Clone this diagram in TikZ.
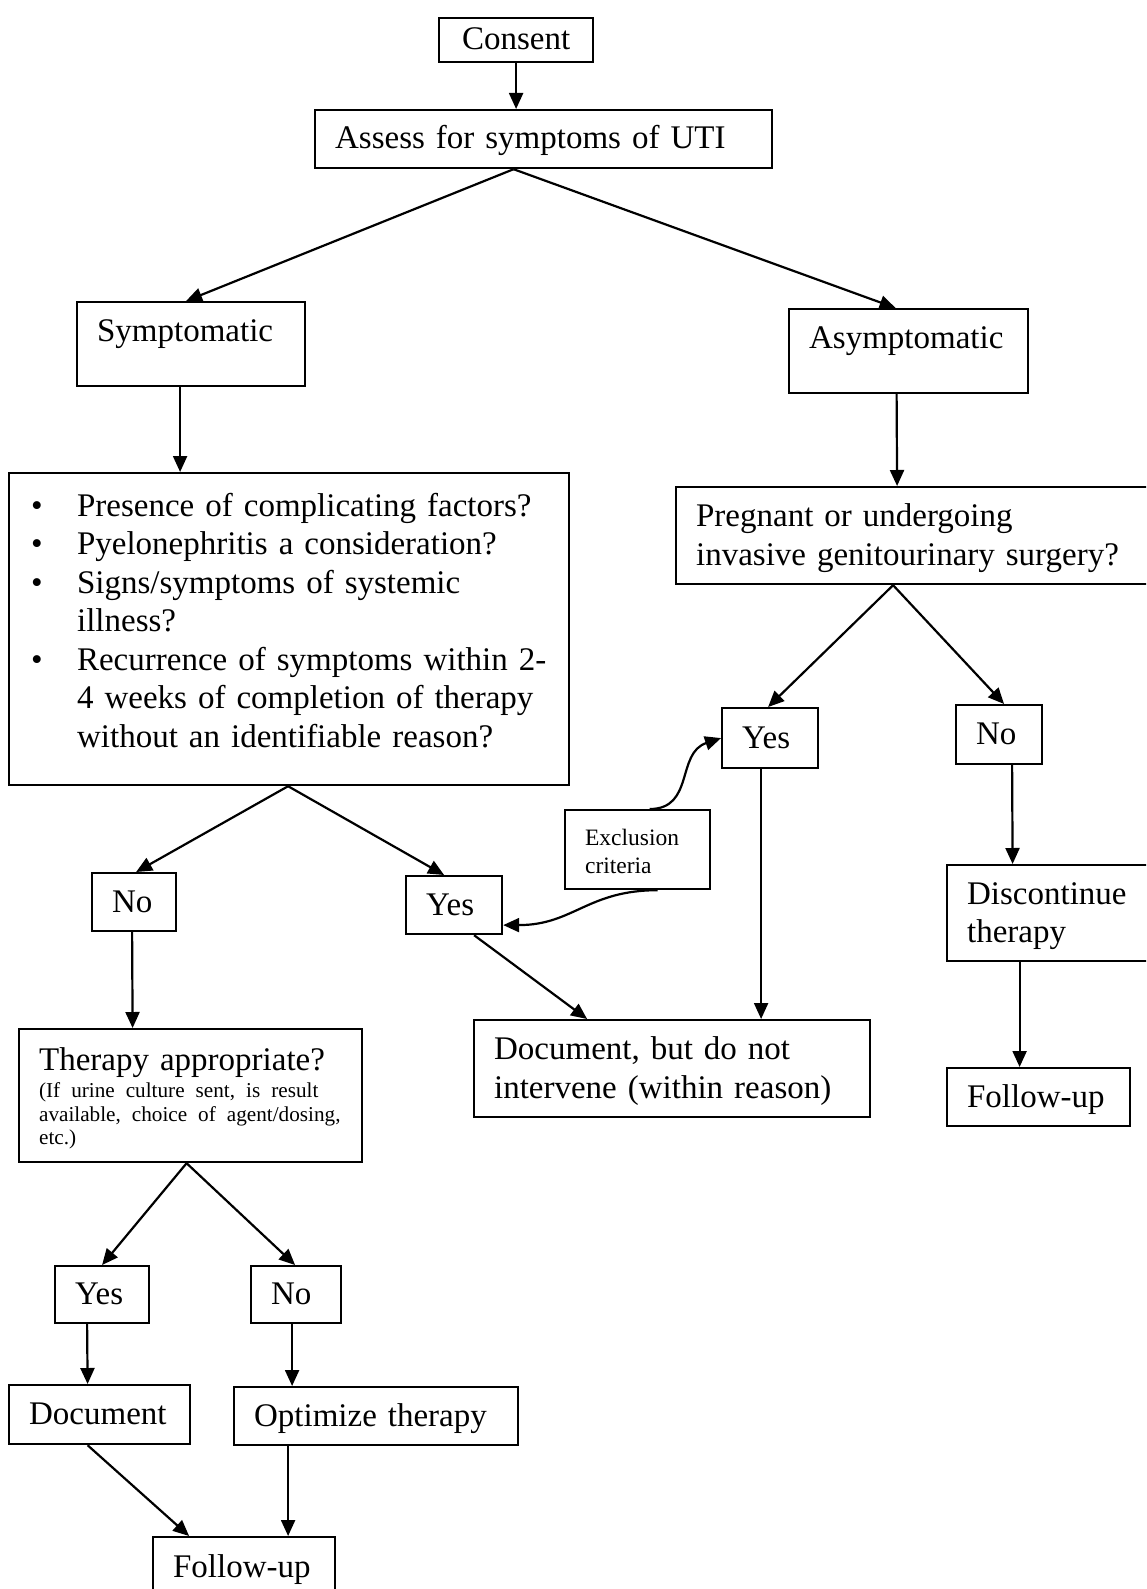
\documentclass[tikz,border=0pt]{standalone}
\usepackage{fontspec}
\setmainfont{Liberation Serif}
\usetikzlibrary{arrows.meta}

% bullet and hanging indent for the criteria list
\newcommand{\critbullet}{\makebox[68pt][l]{\hspace*{22pt}\textbullet}}
\newcommand{\critindent}{\hspace*{68pt}}
% first-line strut so the text sits like the Word boxes
\newcommand{\boxstrut}{\rule[-0.25em]{0pt}{1.1em}}

\begin{document}
\begin{tikzpicture}[x=1pt, y=-1pt, font=\fontsize{33}{38.5}\selectfont,
  box/.style={draw, line width=2.2pt, anchor=north west, inner xsep=20pt,
    inner ysep=0pt, align=left, execute at begin node=\boxstrut},
  arr/.style={line width=2.2pt, -{Triangle[length=16pt, width=14pt]}}]

  % page frame, 1 unit = 1 px of the flowchart
  \useasboundingbox (0,0) rectangle (1146,1589);
  \clip (0,0) rectangle (1146,1589);

  % ---- top ----
  \node[box, align=center, text width=114pt, minimum height=44pt] (consent) at (438,17) {Consent};
  \node[box, text width=417pt, minimum height=58pt] (assess) at (314,109) {Assess for symptoms of UTI};

  \node[box, text width=188pt, minimum height=84pt, text depth=33pt] (sympt) at (76,301) {Symptomatic};
  \node[box, text width=199pt, minimum height=84pt, text depth=33pt] (asym) at (788,308) {Asymptomatic};

  % ---- symptomatic branch ----
  \node[box, inner xsep=0pt, text width=560pt, minimum height=312pt] (crit) at (8,472) {%
    \critbullet Presence of complicating factors?\\
    \critbullet Pyelonephritis a consideration?\\
    \critbullet Signs/symptoms of systemic\\
    \critindent illness?\\
    \critbullet Recurrence of symptoms within 2-\\
    \critindent 4 weeks of completion of therapy\\
    \critindent without an identifiable reason?\rule[-23pt]{0pt}{23pt}};

  \node[box, text width=44pt, minimum height=58pt] (noL) at (91,872) {No};
  \node[box, text width=56pt, minimum height=58pt] (yesM) at (405,875) {Yes};

  \node[box, text width=303pt, minimum height=133pt] (ther) at (18,1028) {%
    \raggedright Therapy appropriate?\par\vspace{4pt}
    \fontsize{21.2}{23.3}\selectfont \mbox{(If urine culture sent, is result}\par
    \mbox{available, choice of agent/dosing,}\par
    etc.)\par};

  \node[box, text width=54pt, minimum height=57pt] (yesB) at (54,1265) {Yes};
  \node[box, text width=50pt, minimum height=57pt] (noB) at (250,1265) {No};
  \node[box, text width=141pt, minimum height=59pt] (docB) at (8,1384) {Document};
  \node[box, text width=244pt, minimum height=58pt] (opt) at (233,1386) {Optimize therapy};
  \node[box, text width=142pt, minimum height=60pt] (fupB) at (152,1536) {Follow-up};

  % ---- asymptomatic branch ----
  \node[box, text width=450pt, minimum height=97pt] (preg) at (675,486) {Pregnant or undergoing\\invasive genitourinary surgery?};
  \node[box, text width=56pt, minimum height=60pt] (yesR) at (721,707) {Yes};
  \node[box, text width=46pt, minimum height=59pt] (noR) at (955,704) {No};
  \node[box, font=\fontsize{23.5}{27.5}\selectfont, text width=105pt, minimum height=79pt] (excl) at (564,809) {Exclusion\\criteria};
  \node[box, text width=175pt, minimum height=96pt] (disc) at (946,864) {Discontinue\\therapy};
  \node[box, text width=356pt, minimum height=97pt] (docbut) at (473,1019) {Document, but do not\\intervene (within reason)};
  \node[box, text width=143pt, minimum height=58pt] (fupR) at (946,1067) {Follow-up};

  % ---- connectors ----
  \draw[arr] (consent.south) -- (consent.south |- assess.north);
  \draw[arr] ([xshift=-30pt]assess.south) -- ([xshift=-5pt]sympt.north);
  \draw[arr] ([xshift=-30pt]assess.south) -- ([xshift=-13pt]asym.north);

  \draw[arr] ([xshift=-11pt]sympt.south) -- ([xshift=-109pt]crit.north);
  \draw[arr] ([xshift=-1pt]crit.south) -- ([xshift=2pt]noL.north);
  \draw[arr] ([xshift=-1pt]crit.south) -- ([xshift=-10pt]yesM.north);
  \draw[arr] ([xshift=-2pt]noL.south) -- ([xshift=-58pt]ther.north);
  \draw[arr] ([xshift=-4pt]ther.south) -- (yesB.north);
  \draw[arr] ([xshift=-4pt]ther.south) -- ([xshift=-1pt]noB.north);
  \draw[arr] ([xshift=-15pt]yesB.south) -- ([xshift=-12pt]docB.north);
  \draw[arr] ([xshift=-4pt]noB.south) -- ([xshift=-84pt]opt.north);
  \draw[arr] ([xshift=-12pt]docB.south) -- ([xshift=-55pt]fupB.north);
  \draw[arr] ([xshift=-88pt]opt.south) -- ([xshift=44pt]fupB.north);

  \draw[arr] ([xshift=-12pt]asym.south) -- ([xshift=-24pt]preg.north);
  \draw[arr] ([xshift=-28pt]preg.south) -- ([xshift=-2pt]yesR.north);
  \draw[arr] ([xshift=-28pt]preg.south) -- ([xshift=5pt]noR.north);
  \draw[arr] ([xshift=-9pt]yesR.south) -- ([xshift=89pt]docbut.north);
  \draw[arr] ([xshift=20pt]yesM.south) -- ([xshift=-85pt]docbut.north);
  \draw[arr] ([xshift=13pt]noR.south) -- ([xshift=-42pt]disc.north);
  \draw[arr] ([xshift=-35pt]disc.south) -- ([xshift=-19pt]fupR.north);

  % exclusion criteria, curved
  \draw[arr] ([xshift=12pt]excl.north) .. controls +(45,0) and +(-45,15) .. (yesR.west);
  \draw[arr] ([xshift=20pt]excl.south) .. controls +(-70,0) and +(70,0) .. ([yshift=-20pt]yesM.east);

\end{tikzpicture}
\end{document}
